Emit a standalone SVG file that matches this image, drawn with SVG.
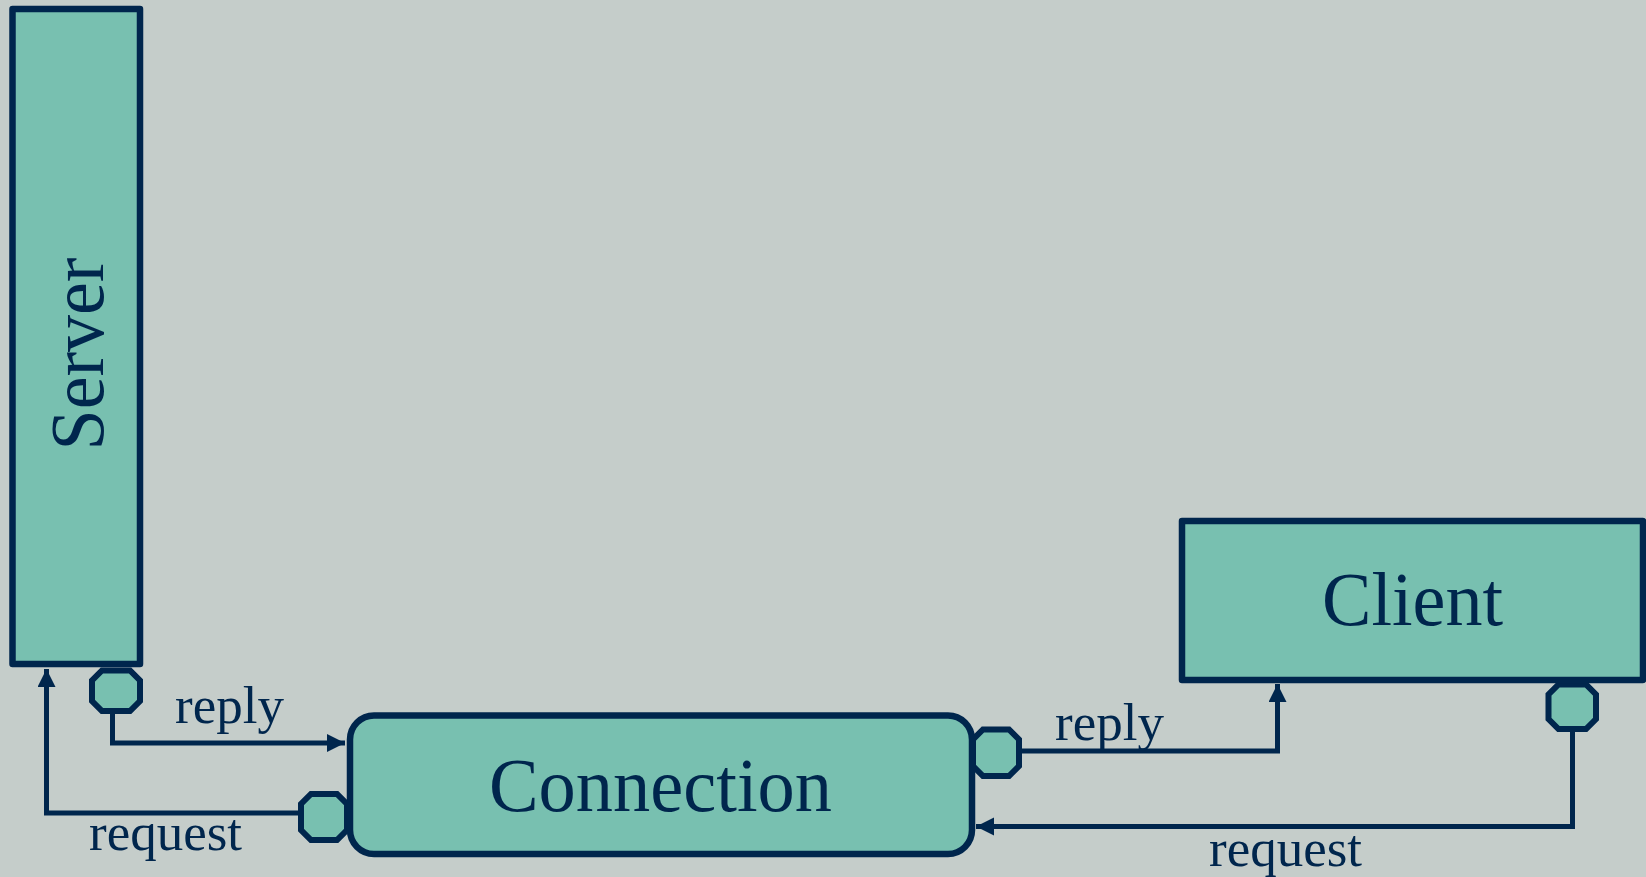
<svg xmlns="http://www.w3.org/2000/svg" width="1646" height="877" viewBox="0 0 1646 877">
<style>
.box{fill:#78c0b0;stroke:#00264d;stroke-width:6.5;stroke-linejoin:round}
.port{fill:#78c0b0;stroke:#00264d;stroke-width:6;stroke-linejoin:miter}
.wire{fill:none;stroke:#00264d;stroke-width:5}
.big{font-family:"Liberation Serif","Times New Roman",serif;font-size:76px;fill:#00264d}
.lbl{font-family:"Liberation Serif","Times New Roman",serif;font-size:53px;fill:#00264d}
</style>
<defs>
<marker id="arr" markerUnits="userSpaceOnUse" markerWidth="20" markerHeight="20" refX="18" refY="9" orient="auto">
<path d="M0,0 L18,9 L0,18 z" fill="#00264d"/>
</marker>
</defs>
<rect width="1646" height="877" fill="#c5cdca"/>
<g id="connectors">
<path class="wire" d="M112.5,712 V743 H345" marker-end="url(#arr)"/>
<path class="wire" d="M300,813 H46.5 V669" marker-end="url(#arr)"/>
<path class="wire" d="M1019,751 H1277.5 V684" marker-end="url(#arr)"/>
<path class="wire" d="M1572.5,729 V826.5 H976" marker-end="url(#arr)"/>
</g>
<g id="ports">
<polygon id="server-port" class="port" points="102,670.5 130,670.5 140,680.5 140,701 130,711 102,711 92,701 92,680.5"/>
<polygon id="conn-left-port" class="port" points="311,794 337,794 347,804 347,830 337,840 311,840 301,830 301,804"/>
<polygon id="conn-right-port" class="port" points="983,729.5 1009,729.5 1019,739.5 1019,766 1009,776 983,776 973,766 973,739.5"/>
<polygon id="client-port" class="port" points="1558.5,684.5 1586,684.5 1596,694.5 1596,719 1586,729 1558.5,729 1548.5,719 1548.5,694.5"/>
</g>
<g id="server">
<rect class="box" x="12.5" y="9" width="127.5" height="655"/>
<text class="big" transform="translate(103,354) rotate(-90)" text-anchor="middle" textLength="193" lengthAdjust="spacingAndGlyphs">Server</text>
</g>
<g id="connection">
<rect class="box" x="350" y="715.5" width="622" height="138.5" rx="24" ry="24"/>
<text class="big" x="489" y="811" textLength="343" lengthAdjust="spacingAndGlyphs">Connection</text>
</g>
<g id="client">
<rect class="box" x="1182" y="521" width="461" height="159"/>
<text class="big" x="1322" y="625" textLength="181" lengthAdjust="spacingAndGlyphs">Client</text>
</g>
<g id="labels">
<text class="lbl" x="175" y="723">reply</text>
<text class="lbl" x="89" y="850">request</text>
<text class="lbl" x="1055" y="740">reply</text>
<text class="lbl" x="1209" y="866">request</text>
</g>
</svg>
